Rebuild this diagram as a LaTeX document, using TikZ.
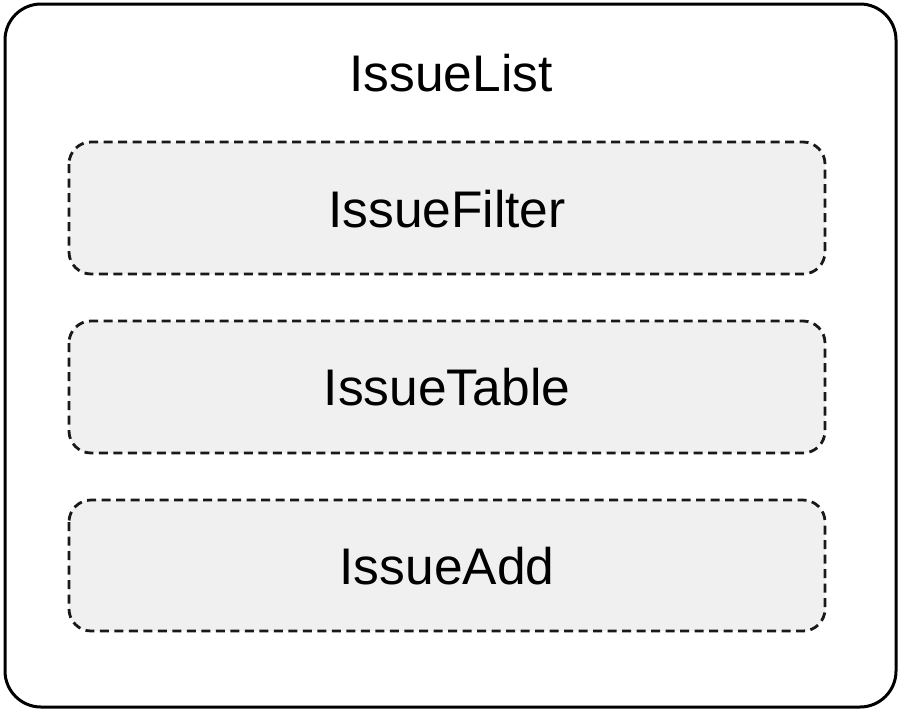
\documentclass[tikz,border=0pt]{standalone}
\usepackage{fontspec}
\setmainfont{Liberation Sans}
\begin{document}
\begin{tikzpicture}[x=1pt,y=-1pt,
  outerbox/.style={draw=black,line width=3pt,rounded corners=36pt,fill=white},
  compbox/.style={draw=black!90,line width=2.8pt,dash pattern=on 9pt off 5.5pt,
    rounded corners=22pt,fill=black!6},
  label/.style={font=\fontsize{51.5}{60}\selectfont,text=black}]
  \useasboundingbox (0,0) rectangle (901,712);
  % outer component
  \draw[outerbox] (5,4) rectangle (896,707);
  \node[label,anchor=base] (list) at (451,91) {IssueList};
  % child components
  \draw[compbox] (69,142) rectangle (825,274);
  \node[label] (filter) at (447,209) {IssueFilter};
  \draw[compbox] (69,321) rectangle (825,453);
  \node[label] (table) at (447,387) {IssueTable};
  \draw[compbox] (69,500) rectangle (825,631);
  \node[label] (add) at (447,566) {IssueAdd};
\end{tikzpicture}
\end{document}
